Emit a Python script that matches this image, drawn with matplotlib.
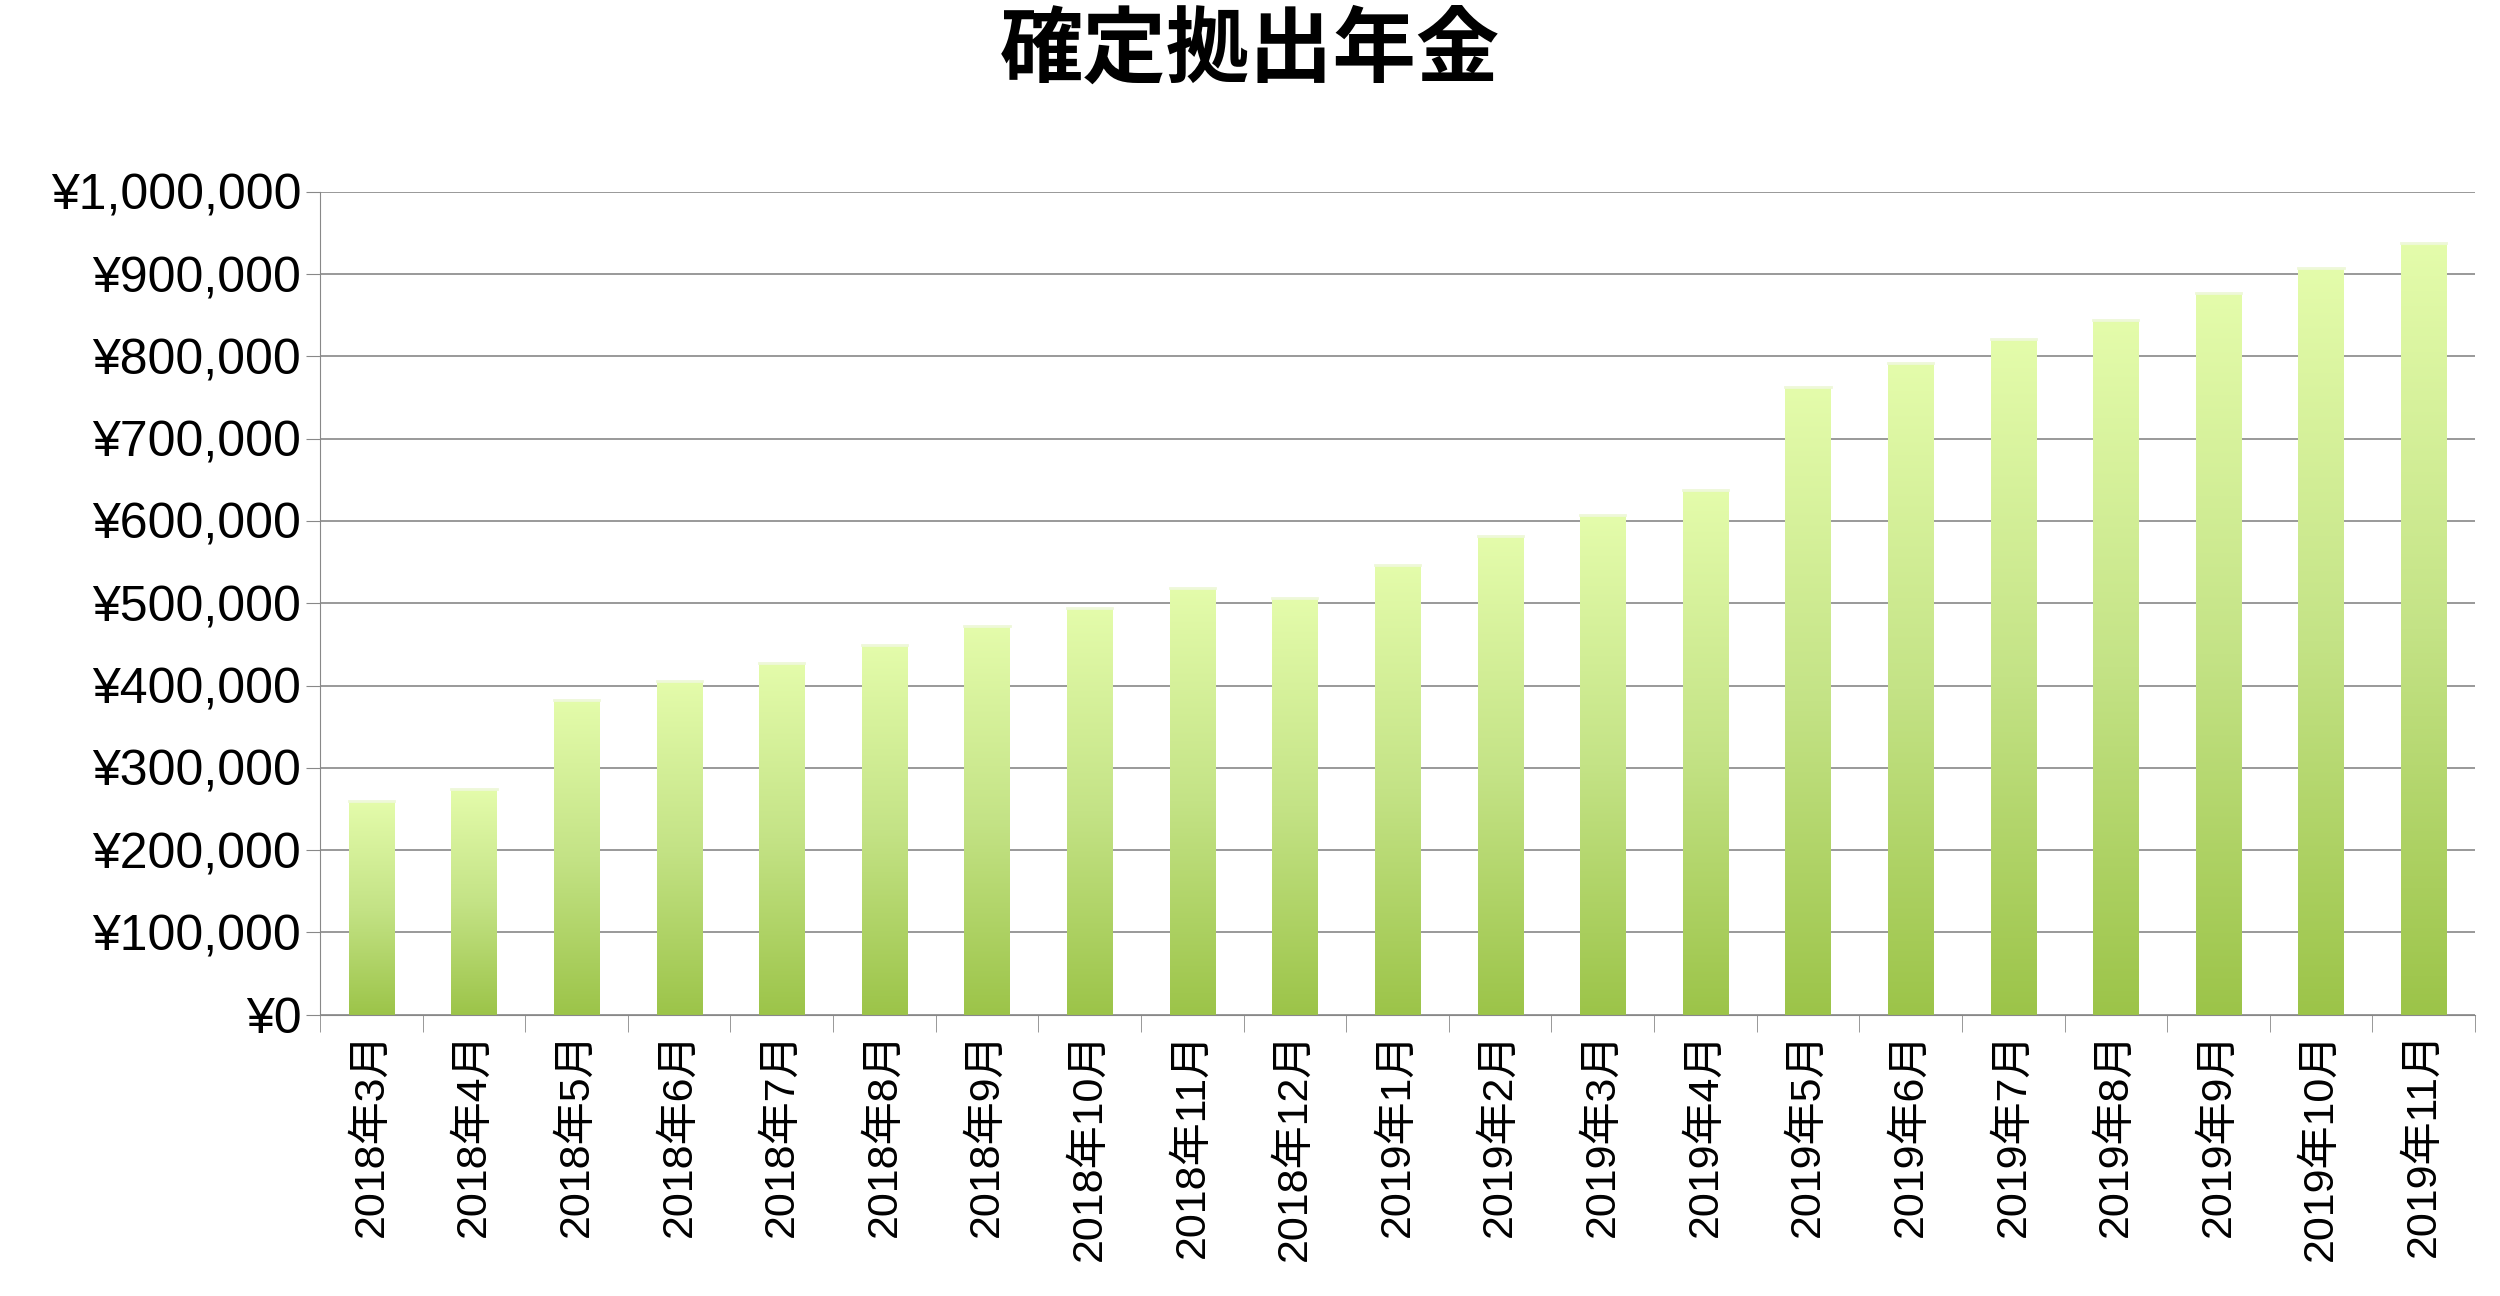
import matplotlib
matplotlib.use("Agg")
import matplotlib.pyplot as plt
import numpy as np
from matplotlib.colors import LinearSegmentedColormap
from matplotlib.ticker import FuncFormatter, MultipleLocator

plt.rcParams["font.family"] = ["Liberation Sans", "Noto Sans CJK JP", "DejaVu Sans"]

categories = ["2018年3月","2018年4月","2018年5月","2018年6月","2018年7月","2018年8月",
              "2018年9月","2018年10月","2018年11月","2018年12月","2019年1月","2019年2月",
              "2019年3月","2019年4月","2019年5月","2019年6月","2019年7月","2019年8月",
              "2019年9月","2019年10月","2019年11月"]
values = [260000, 274000, 383000, 406000, 428000, 449000, 472000, 494000, 519000, 506000,
          547000, 582000, 607000, 638000, 763000, 792000, 821000, 844000, 877000, 908000, 938000]

fig = plt.figure(figsize=(25, 12.96), dpi=100)
ax = fig.add_axes([0.128, 0.217, 0.862, 0.635])
x = np.arange(len(categories))
w = 0.44
bars = ax.bar(x, values, width=w, color="none", edgecolor="none")
cmap = LinearSegmentedColormap.from_list("g", ["#9cc449", "#c4e386", "#e4fcab"])
grad = np.linspace(0, 1, 256).reshape(-1, 1)
for b in bars:
    im = ax.imshow(grad, cmap=cmap, origin="lower", aspect="auto",
                   extent=[b.get_x(), b.get_x() + b.get_width(), 0, b.get_height()], zorder=2)
    im.set_clip_path(b)
    ax.plot([b.get_x(), b.get_x() + b.get_width()], [b.get_height()] * 2, color="#eef8d8", lw=2, zorder=3)
ax.set_xlim(-0.5, len(categories) - 0.5)
ax.set_ylim(0, 1000000)

ax.yaxis.set_major_locator(MultipleLocator(100000))
ax.yaxis.set_major_formatter(FuncFormatter(lambda v, p: f"¥{int(v):,}"))
ax.grid(axis="y", color="#888888", lw=1.2, zorder=0)
ax.set_axisbelow(True)
for s in ["top", "right"]:
    ax.spines[s].set_visible(False)
ax.spines["left"].set_color("#888888")
ax.spines["bottom"].set_color("#888888")
ax.tick_params(axis="y", labelsize=36, length=10, color="#888888", direction="out")
ax.set_xticks(x)
ax.set_xticklabels(categories, rotation=90, fontsize=31)
ax.tick_params(axis="x", length=0, pad=12)
ax.set_xticks(np.arange(-0.5, len(categories)), minor=True)
ax.tick_params(axis="x", which="minor", length=12, color="#888888")
fig.suptitle("確定拠出年金", fontsize=60, fontweight="bold", y=0.99)
fig.savefig("out.png", dpi=100)
